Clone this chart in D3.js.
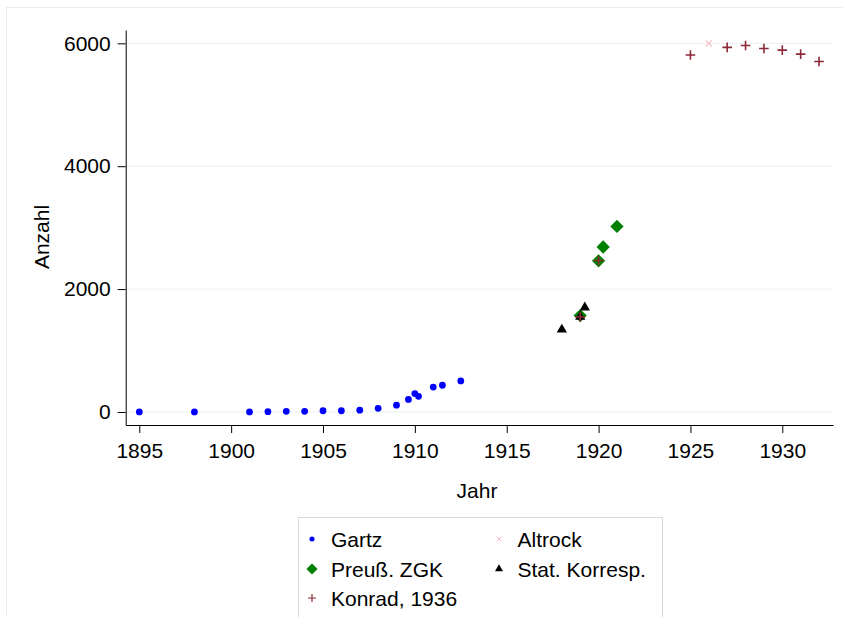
<!DOCTYPE html>
<html>
<head>
<meta charset="utf-8">
<script src="https://cdn.jsdelivr.net/npm/d3@7"></script>
<style>
  body { margin: 0; background: #fff; }
  text { font-family: "Liberation Sans", Arial, Helvetica, sans-serif; }
</style>
</head>
<body>
<div id="chart"></div>
<script>
// data
var gartzYears  = [1895, 1898, 1901, 1902, 1903, 1904, 1905, 1906, 1907, 1908, 1909, 1909.65, 1910, 1910.2, 1911, 1911.5, 1912.5];
var gartzValues = [0, 0, 0, 5, 10, 10, 20, 20, 30, 60, 110, 205, 300, 255, 405, 435, 505];

var altrockYears  = [1926];
var altrockValues = [6000];

var zgkYears  = [1919, 1920, 1920.25, 1921];
var zgkValues = [1570, 2460, 2685, 3020];

var statYears  = [1918, 1919, 1919.25];
var statValues = [1340, 1550, 1700];

var konradYears  = [1919, 1920, 1925, 1927, 1928, 1929, 1930, 1931, 1932];
var konradValues = [1545, 2465, 5810, 5935, 5965, 5915, 5890, 5825, 5705];

var xTicks = [1895, 1900, 1905, 1910, 1915, 1920, 1925, 1930];
var yTicks = [0, 2000, 4000, 6000];

var W = 843, H = 617;
var plot = {left: 125.7, right: 833, top: 30, bottom: 425};
var fontSize = "21px";

var svg = d3.select("#chart").append("svg")
    .attr("width", W)
    .attr("height", H);

// outer frame of the graph region
svg.append("rect")
    .attr("x", 6.5).attr("y", 7.5)
    .attr("width", 900).attr("height", 700)
    .style("fill", "none")
    .style("stroke", "#e6eef0");

var x = d3.scaleLinear()
    .domain([1894.26, 1932.76])
    .range([plot.left, plot.right]);

var y = d3.scaleLinear()
    .domain([-212, 6217])
    .range([plot.bottom, plot.top]);

// grid lines
svg.append("g")
  .selectAll("line")
  .data(yTicks)
  .enter().append("line")
    .attr("x1", plot.left)
    .attr("x2", plot.right)
    .attr("y1", function(d) { return y(d); })
    .attr("y2", function(d) { return y(d); })
    .style("stroke", "#eaf1f3")
    .style("stroke-width", 1);

// axes
var xAxis = svg.append("g")
    .attr("transform", "translate(0," + plot.bottom + ")")
    .call(d3.axisBottom(x).tickValues(xTicks).tickFormat(d3.format("d"))
      .tickSize(8).tickSizeOuter(0).tickPadding(10));

var yAxis = svg.append("g")
    .attr("transform", "translate(" + plot.left + ",0)")
    .call(d3.axisLeft(y).tickValues(yTicks).tickFormat(d3.format("d"))
      .tickSize(8).tickSizeOuter(0).tickPadding(7));

[xAxis, yAxis].forEach(function(a) {
  a.selectAll("text")
    .style("font-size", fontSize)
    .style("font-family", "'Liberation Sans', Arial, sans-serif")
    .style("fill", "#000");
  a.selectAll("line").style("stroke", "#000");
  a.select(".domain").style("stroke", "#000");
});

// axis titles
svg.append("text")
    .attr("x", 477)
    .attr("y", 498)
    .style("text-anchor", "middle")
    .style("font-size", fontSize)
    .text("Jahr");

svg.append("text")
    .attr("transform", "translate(49,237) rotate(-90)")
    .style("text-anchor", "middle")
    .style("font-size", fontSize)
    .text("Anzahl");

// marker helpers
function zip(xs, ys) {
  return xs.map(function(v, i) { return {year: v, n: ys[i]}; });
}

var circle = d3.symbol().type(d3.symbolCircle);
var tri = d3.symbol().type(d3.symbolTriangle);
var diamondSq = d3.symbol().type(d3.symbolSquare);

function crossPath(h) {
  return "M" + (-h) + ",0H" + h + "M0," + (-h) + "V" + h;
}
function xPath(h) {
  return "M" + (-h) + "," + (-h) + "L" + h + "," + h + "M" + (-h) + "," + h + "L" + h + "," + (-h);
}

var marks = svg.append("g");

function drawSeries(data, pathD, style, rotate) {
  var sel = marks.append("g")
    .selectAll("path")
    .data(data)
    .enter().append("path")
      .attr("transform", function(d) {
        return "translate(" + x(d.year) + "," + y(d.n) + ")" + (rotate ? " rotate(45)" : "");
      })
      .attr("d", pathD);
  for (var k in style) sel.style(k, style[k]);
}

drawSeries(zip(gartzYears, gartzValues), circle.size(36)(), {fill: "#0000ff"});
drawSeries(zip(altrockYears, altrockValues), xPath(3), {fill: "none", stroke: "#f7b9c3", "stroke-width": 1.2});
drawSeries(zip(zgkYears, zgkValues), diamondSq.size(88)(), {fill: "#008000"}, true);
drawSeries(zip(statYears, statValues), tri.size(46)(), {fill: "#000"});
drawSeries(zip(konradYears, konradValues), crossPath(4.8), {fill: "none", stroke: "#8d2a38", "stroke-width": 1.6});

// legend
var legend = svg.append("g");
legend.append("rect")
    .attr("x", 298.5).attr("y", 517.5)
    .attr("width", 364).attr("height", 130)
    .style("fill", "#fff")
    .style("stroke", "#d9d9d9");

var legendItems = [
  {label: "Gartz",            mx: 312, tx: 331,   ty: 539, d: circle.size(20)(), style: {fill: "#0000ff"}},
  {label: "Altrock",          mx: 499, tx: 517.5, ty: 539, d: xPath(2.4), style: {fill: "none", stroke: "#f7b9c3", "stroke-width": 1}},
  {label: "Preu\u00df. ZGK",  mx: 312, tx: 331,   ty: 569, d: diamondSq.size(62)(), rot: true, style: {fill: "#008000"}},
  {label: "Stat. Korresp.",   mx: 499, tx: 517.5, ty: 569, d: tri.size(28)(), style: {fill: "#000"}},
  {label: "Konrad, 1936",     mx: 312, tx: 331,   ty: 598, d: crossPath(4), style: {fill: "none", stroke: "#8d2a38", "stroke-width": 1.2}}
];

legendItems.forEach(function(it) {
  var p = legend.append("path")
      .attr("transform", "translate(" + it.mx + "," + it.ty + ")" + (it.rot ? " rotate(45)" : ""))
      .attr("d", it.d);
  for (var k in it.style) p.style(k, it.style[k]);
  legend.append("text")
      .attr("x", it.tx)
      .attr("y", it.ty)
      .attr("dy", "0.36em")
      .style("font-size", fontSize)
      .text(it.label);
});
</script>
</body>
</html>
